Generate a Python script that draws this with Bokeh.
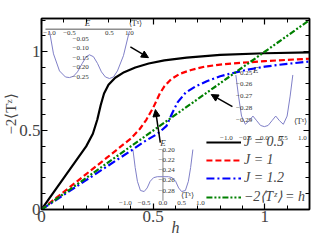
from bokeh.plotting import figure
from bokeh.models import (Range1d, LinearAxis, FixedTicker, Arrow, NormalHead,
                          Legend, LegendItem)
from bokeh.core.properties import value
from bokeh.embed import file_html
from bokeh.resources import INLINE

# ---------------- data ----------------
h_black = [0, 0.05, 0.1, 0.15, 0.2, 0.23, 0.25, 0.265, 0.28, 0.3, 0.33, 0.37, 0.42, 0.48, 0.55, 0.65, 0.8, 1.0, 1.2]
y_black = [0, 0.10, 0.20, 0.30, 0.40, 0.48, 0.57, 0.66, 0.735, 0.79, 0.835, 0.87, 0.90, 0.925, 0.945, 0.962, 0.98, 0.99, 0.995]

h_red = [0, 0.1, 0.2, 0.3, 0.4, 0.44, 0.47, 0.5, 0.53, 0.55, 0.58, 0.62, 0.67, 0.73, 0.8, 0.9, 1.0, 1.1, 1.2]
y_red = [0, 0.112, 0.224, 0.336, 0.45, 0.51, 0.57, 0.645, 0.735, 0.78, 0.825, 0.86, 0.884, 0.905, 0.918, 0.93, 0.94, 0.948, 0.955]

h_blue = [0, 0.1, 0.2, 0.3, 0.4, 0.46, 0.52, 0.56, 0.585, 0.61, 0.645, 0.69, 0.74, 0.8, 0.85, 0.92, 1.0, 1.1, 1.2]
y_blue = [0, 0.093, 0.186, 0.279, 0.372, 0.43, 0.48, 0.53, 0.61, 0.68, 0.74, 0.78, 0.812, 0.844, 0.862, 0.885, 0.905, 0.923, 0.937]

h_green = [0, 1.2]
y_green = [0, 1.2]

legend_labels = ["J = 0.5", "J = 1", "J = 1.2", "\u22122\u27e8T\u1dbb\u27e9 = h"]

x_ticks = [0, 0.5, 1]
x_tick_labels = ["0", "0.5", "1"]
y_ticks = [0, 0.5, 1]
y_tick_labels = ["0", "0.5", "1"]
minor = [0.1 * k for k in range(13)]

# inset 1 (top-left): E vs <T^x>
x_in1 = [-1.0, -0.9, -0.75, -0.6, -0.5, -0.4, -0.3, -0.18, -0.08, 0.0, 0.1, 0.2, 0.3, 0.4, 0.5, 0.6, 0.7, 0.85, 1.0]
E_in1 = [-0.01, -0.13, -0.22, -0.252, -0.255, -0.248, -0.225, -0.18, -0.145, -0.135, -0.145, -0.18, -0.225, -0.252, -0.26, -0.252, -0.22, -0.14, -0.01]
in1_xticks = [-1.0, -0.5, 0.5, 1.0]
in1_xlabels = ["\u22121.0", "\u22120.5", "0.5", "1.0"]
in1_yticks = [-0.05, -0.10, -0.15, -0.20, -0.25]
in1_ylabels = ["\u22120.05", "\u22120.10", "\u22120.15", "\u22120.20", "\u22120.25"]

# inset 2 (right): triple well
x_in2 = [-0.75, -0.68, -0.6, -0.5, -0.4, -0.3, -0.2, -0.1, 0, 0.1, 0.2, 0.3, 0.4, 0.5, 0.6, 0.68, 0.75]
E_in2 = [-0.252, -0.27, -0.287, -0.294, -0.291, -0.287, -0.291, -0.295, -0.296, -0.295, -0.291, -0.287, -0.291, -0.294, -0.287, -0.27, -0.252]
in2_xticks = [-1.0, -0.5, 0.0, 0.5, 1.0]
in2_xlabels = ["\u22121.0", "\u22120.5", "0.0", "0.5", "1.0"]
in2_yticks = [-0.25, -0.26, -0.27, -0.28, -0.29]
in2_ylabels = ["\u22120.25", "\u22120.26", "\u22120.27", "\u22120.28", "\u22120.29"]

# inset 3 (bottom-centre)
x_in3 = [-0.8, -0.74, -0.68, -0.6, -0.5, -0.42, -0.34, -0.25, -0.15, 0, 0.15, 0.25, 0.34, 0.42, 0.5, 0.6, 0.68, 0.74, 0.8]
E_in3 = [-0.20, -0.235, -0.262, -0.28, -0.282, -0.275, -0.262, -0.255, -0.253, -0.253, -0.253, -0.255, -0.262, -0.275, -0.282, -0.28, -0.262, -0.235, -0.20]
in3_xticks = [-1.0, -0.5, 0.0, 0.5, 1.0]
in3_xlabels = ["\u22121.0", "\u22120.5", "0.0", "0.5", "1.0"]
in3_yticks = [-0.20, -0.22, -0.24, -0.26, -0.28]
in3_ylabels = ["\u22120.20", "\u22120.22", "\u22120.24", "\u22120.26", "\u22120.28"]

# arrows (tail -> head) in h / -2<T^z> units
arrow_x0 = [0.398, 0.855, 0.532]
arrow_y0 = [1.03, 0.652, 0.424]
arrow_x1 = [0.479, 0.76, 0.51]
arrow_y1 = [0.962, 0.728, 0.633]

SERIF = "Liberation Serif"

# ---------------- figure ----------------
p = figure(frame_width=268, frame_height=191, x_range=Range1d(0, 1.2), y_range=Range1d(0, 1.21),
           output_backend="svg", toolbar_location=None,
           min_border_left=38, min_border_right=10, min_border_top=18, min_border_bottom=28)
p.grid.visible = False
p.outline_line_color = "black"
p.outline_line_width = 1.5
p.background_fill_color = "white"
p.border_fill_color = "white"

def style_axis(ax, ticks, labels, show_labels=True):
    ax.ticker = FixedTicker(ticks=ticks, minor_ticks=minor)
    ax.major_label_overrides = {t: l for t, l in zip(ticks, labels)}
    ax.major_tick_in = 6
    ax.major_tick_out = 0
    ax.minor_tick_in = 4
    ax.minor_tick_out = 0
    ax.axis_line_width = 1.5
    ax.major_tick_line_width = 1.2
    ax.minor_tick_line_width = 1.0
    ax.major_label_text_font = SERIF
    if show_labels:
        ax.major_label_text_font_size = "17px"
        ax.major_label_standoff = 1
    else:
        ax.major_label_text_font_size = "1px"
        ax.major_label_text_color = None
        ax.major_label_standoff = 0

style_axis(p.xaxis[0], x_ticks, x_tick_labels)
style_axis(p.yaxis[0], y_ticks, y_tick_labels)
p.xaxis.axis_label = "h"
p.xaxis.axis_label_text_font = SERIF
p.xaxis.axis_label_text_font_style = "italic"
p.xaxis.axis_label_text_font_size = "16px"
p.xaxis.axis_label_standoff = -6
p.yaxis.axis_label = "\u22122\u27e8T\u1dbb\u27e9"
p.yaxis.axis_label_text_font = SERIF
p.yaxis.axis_label_text_font_style = "normal"
p.yaxis.axis_label_text_font_size = "15px"
p.yaxis.axis_label_standoff = -3

top_ax = LinearAxis()
style_axis(top_ax, x_ticks, x_tick_labels, show_labels=False)
p.add_layout(top_ax, "above")
right_ax = LinearAxis()
style_axis(right_ax, y_ticks, y_tick_labels, show_labels=False)
p.add_layout(right_ax, "right")

# ---------------- insets ----------------
inset_col = "#8080c8"
txt_col = "#333333"
fs = "7px"

s1 = p.subplot(x_source=Range1d(-1, 1), y_source=Range1d(-0.25, 0),
               x_target=Range1d(0.0358, 0.3937), y_target=Range1d(0.8418, 1.1424))
s1.line(x_in1, E_in1, line_color=inset_col, line_width=1)
s1.line([-1.1, 1.06], [0.0, 0.0], line_color="#555555", line_width=1)
s1.text(x=in1_xticks, y=[-0.012] * len(in1_xticks), text=in1_xlabels, text_font=value(SERIF),
        text_font_size=fs, text_align="center", text_baseline="top", text_color=txt_col)
s1.text(x=[-0.02] * len(in1_yticks), y=in1_yticks, text=in1_ylabels, text_font=value(SERIF),
        text_font_size=fs, text_align="right", text_baseline="middle", text_color=txt_col)
s1.text(x=[-0.05], y=[0.005], text=["E"], text_font=value(SERIF), text_font_style="italic",
        text_font_size="9px", text_align="center", text_baseline="bottom", text_color=txt_col)
s1.text(x=[1.15], y=[0.005], text=["\u27e8T\u02e3\u27e9"], text_font=value(SERIF),
        text_font_size="8px", text_align="center", text_baseline="bottom", text_color=txt_col)

s2 = p.subplot(x_source=Range1d(-1, 1), y_source=Range1d(-0.29, -0.25),
               x_target=Range1d(0.8277, 1.1678), y_target=Range1d(0.5696, 0.8671))
s2.line(x_in2, E_in2, line_color=inset_col, line_width=1)
s2.text(x=[-0.32] * len(in2_yticks), y=in2_yticks, text=in2_ylabels, text_font=value(SERIF),
        text_font_size=fs, text_align="right", text_baseline="middle", text_color=txt_col)
s2.text(x=in2_xticks, y=[-0.306] * len(in2_xticks), text=in2_xlabels, text_font=value(SERIF),
        text_font_size=fs, text_align="center", text_baseline="middle", text_color=txt_col)
s2.text(x=[-0.3], y=[-0.248], text=["E"], text_font=value(SERIF), text_font_style="italic",
        text_font_size="9px", text_align="left", text_baseline="middle", text_color=txt_col)
s2.text(x=[0.95], y=[-0.292], text=["\u27e8T\u02e3\u27e9"], text_font=value(SERIF),
        text_font_size="8px", text_align="center", text_baseline="middle", text_color=txt_col)

s3 = p.subplot(x_source=Range1d(-1, 1), y_source=Range1d(-0.28, -0.20),
               x_target=Range1d(0.3758, 0.7114), y_target=Range1d(0.1203, 0.3797))
s3.line([0, 0], [-0.20, -0.30], line_color="#b0b0b0", line_width=1.5)
s3.line(x_in3, E_in3, line_color=inset_col, line_width=1)
s3.text(x=[0.1] * len(in3_yticks), y=in3_yticks, text=in3_ylabels, text_font=value(SERIF),
        text_font_size=fs, text_align="center", text_baseline="middle", text_color=txt_col)
s3.text(x=in3_xticks, y=[-0.305] * len(in3_xticks), text=in3_xlabels, text_font=value(SERIF),
        text_font_size=fs, text_align="center", text_baseline="middle", text_color=txt_col)
s3.text(x=[0.0], y=[-0.187], text=["E"], text_font=value(SERIF), text_font_style="italic",
        text_font_size="9px", text_align="center", text_baseline="middle", text_color=txt_col)
s3.text(x=[0.65], y=[-0.29], text=["\u27e8T\u02e3\u27e9"], text_font=value(SERIF),
        text_font_size="8px", text_align="center", text_baseline="middle", text_color=txt_col)

# ---------------- main curves ----------------
r_black = p.line(h_black, y_black, line_color="black", line_width=2.2)
r_red = p.line(h_red, y_red, line_color="#ff0000", line_width=2.2, line_dash="6 3")
r_blue = p.line(h_blue, y_blue, line_color="#0000ff", line_width=2.2, line_dash="8 3 2 3")
r_green = p.line(h_green, y_green, line_color="#008000", line_width=2.2, line_dash="6 2 2 2 2 2")

for x0, y0, x1, y1 in zip(arrow_x0, arrow_y0, arrow_x1, arrow_y1):
    p.add_layout(Arrow(end=NormalHead(size=7, fill_color="black", line_color="black"),
                       x_start=x0, y_start=y0, x_end=x1, y_end=y1,
                       line_color="black", line_width=1.5))

legend = Legend(items=[LegendItem(label=l, renderers=[r]) for l, r in
                       zip(legend_labels, [r_black, r_red, r_blue, r_green])],
                location="bottom_right")
legend.background_fill_alpha = 0
legend.border_line_alpha = 0
legend.label_text_font = SERIF
legend.label_text_font_style = "italic"
legend.label_text_font_size = "14px"
legend.glyph_width = 35
legend.glyph_height = 12
legend.label_height = 12
legend.spacing = 2
legend.padding = 1
legend.margin = 3
legend.label_standoff = 3
p.add_layout(legend)

open("out.html", "w").write(file_html(p, INLINE))
